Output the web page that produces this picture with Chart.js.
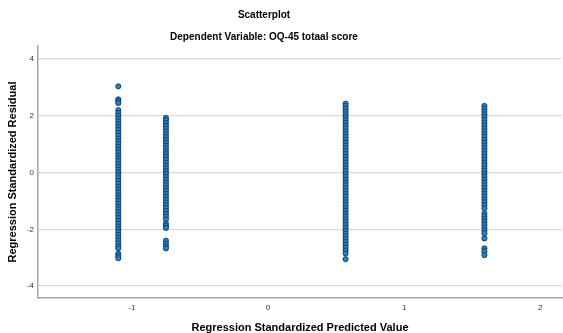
<!DOCTYPE html>
<html>
<head>
<meta charset="utf-8">
<script src="https://cdn.jsdelivr.net/npm/chart.js@4/dist/chart.umd.min.js"></script>
<style>
  html, body { margin: 0; padding: 0; background: #fff; }
  #box { width: 563px; height: 333px; }
</style>
</head>
<body>
<div id="box"><canvas id="scatter"></canvas></div>
<script>
// Scatterplot - residuals per predicted value
const chartTitle = 'Scatterplot';
const chartSubtitle = 'Dependent Variable: OQ-45 totaal score';
const xAxisTitle = 'Regression Standardized Predicted Value';
const yAxisTitle = 'Regression Standardized Residual';

const xTicks = [-1, 0, 1, 2];
const yTicks = [-4, -2, 0, 2, 4];

// predicted value for each group
const predicted = [-1.10, -0.75, 0.57, 1.59];

// residuals, one list per group
const residA = [3.04, 2.58, 2.52, 2.45, 2.2, 2.1, 2.0, 1.9, 1.8, 1.7, 1.6, 1.5, 1.4, 1.3, 1.2, 1.1,
  1.0, 0.9, 0.8, 0.7, 0.6, 0.5, 0.4, 0.3, 0.2, 0.1, 0.0, -0.1, -0.2, -0.3, -0.4, -0.5, -0.6,
  -0.7, -0.8, -0.9, -1.0, -1.1, -1.2, -1.3, -1.4, -1.5, -1.6, -1.7, -1.8, -1.9, -2.0, -2.1,
  -2.2, -2.3, -2.4, -2.5, -2.6, -2.67, -2.86, -2.94, -3.02];
const residB = [1.93, 1.85, 1.75, 1.65, 1.55, 1.45, 1.35, 1.25, 1.15, 1.05, 0.95, 0.85, 0.75, 0.65,
  0.55, 0.45, 0.35, 0.25, 0.15, 0.05, -0.05, -0.15, -0.25, -0.35, -0.45, -0.55, -0.65, -0.75,
  -0.85, -0.95, -1.05, -1.15, -1.25, -1.35, -1.45, -1.55, -1.65, -1.8, -1.88, -1.95, -2.4,
  -2.5, -2.6, -2.67];
const residC = [2.43, 2.35, 2.25, 2.15, 2.05, 1.95, 1.85, 1.75, 1.65, 1.55, 1.45, 1.35, 1.25, 1.15,
  1.05, 0.95, 0.85, 0.75, 0.65, 0.55, 0.45, 0.35, 0.25, 0.15, 0.05, -0.05, -0.15, -0.25, -0.35,
  -0.45, -0.55, -0.65, -0.75, -0.85, -0.95, -1.05, -1.15, -1.25, -1.35, -1.45, -1.55, -1.65,
  -1.75, -1.85, -1.95, -2.05, -2.15, -2.25, -2.35, -2.45, -2.55, -2.65, -2.75, -2.85, -3.05];
const residD = [2.35, 2.25, 2.15, 2.05, 1.95, 1.85, 1.75, 1.65, 1.55, 1.45, 1.35, 1.25, 1.15, 1.05,
  0.95, 0.85, 0.75, 0.65, 0.55, 0.45, 0.35, 0.25, 0.15, 0.05, -0.05, -0.15, -0.25, -0.35, -0.45,
  -0.55, -0.65, -0.75, -0.85, -0.95, -1.05, -1.15, -1.26, -1.44, -1.54, -1.64, -1.74, -1.84,
  -1.94, -2.04, -2.14, -2.32, -2.67, -2.78, -2.91];

const groups = [residA, residB, residC, residD];

const points = [];
groups.forEach((list, i) => {
  list.forEach(r => points.push({ x: predicted[i], y: r }));
});

// titles are centred a bit left of the canvas middle, like the original
const titlePlugin = {
  id: 'spssTitles',
  afterDraw(chart) {
    const ctx = chart.ctx;
    ctx.save();
    ctx.fillStyle = '#000';
    ctx.textAlign = 'center';
    ctx.textBaseline = 'middle';
    ctx.font = 'bold 10px "Liberation Sans", Arial, sans-serif';
    ctx.fillText(chartTitle, 264, 15);
    ctx.fillText(chartSubtitle, 264, 37);
    ctx.restore();
  }
};

const ctx = document.getElementById('scatter').getContext('2d');
new Chart(ctx, {
  type: 'scatter',
  data: {
    datasets: [{
      data: points,
      backgroundColor: '#1e82d6',
      borderColor: '#1b2b3c',
      borderWidth: 0.8,
      pointRadius: 2.6
    }]
  },
  options: {
    responsive: true,
    maintainAspectRatio: false,
    animation: false,
    layout: { autoPadding: false, padding: { top: 46, right: 1, left: 0, bottom: 0 } },
    plugins: {
      legend: { display: false },
      tooltip: { enabled: false }
    },
    scales: {
      x: {
        type: 'linear',
        min: -1.69,
        max: 2.16,
        afterBuildTicks: s => { s.ticks = xTicks.map(v => ({ value: v })); },
        afterFit: s => { s.height = 35; },
        grid: { display: false, drawTicks: false },
        border: { display: true, color: '#a6a6a6', width: 1.5 },
        ticks: {
          padding: 5,
          color: '#333',
          font: { size: 8, family: '"Liberation Sans", Arial, sans-serif' }
        },
        title: {
          display: true,
          text: xAxisTitle,
          color: '#000',
          padding: { top: 0, bottom: 0 },
          font: { size: 11, weight: 'bold', lineHeight: 1, family: '"Liberation Sans", Arial, sans-serif' }
        }
      },
      y: {
        type: 'linear',
        min: -4.42,
        max: 4.46,
        afterBuildTicks: s => { s.ticks = yTicks.map(v => ({ value: v })); },
        afterFit: s => { s.width = 38; },
        grid: { color: '#d9d9d9', lineWidth: 1.2, drawTicks: false },
        border: { display: true, color: '#a6a6a6', width: 1.5 },
        ticks: {
          padding: 4,
          color: '#333',
          font: { size: 8, family: '"Liberation Sans", Arial, sans-serif' }
        },
        title: {
          display: true,
          text: yAxisTitle,
          color: '#000',
          padding: { top: 6, bottom: 0 },
          font: { size: 11, weight: 'bold', family: '"Liberation Sans", Arial, sans-serif' }
        }
      }
    }
  },
  plugins: [titlePlugin]
});
</script>
</body>
</html>
